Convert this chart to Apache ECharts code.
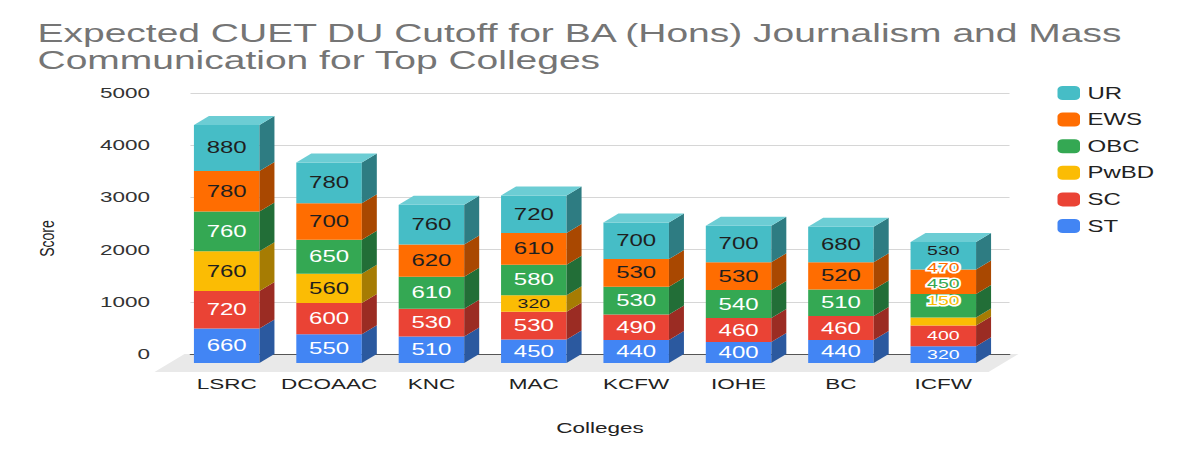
<!DOCTYPE html>
<html style="height: 100%">
<head>
  <meta charset="utf-8">
</head>
<body style="height: 100%; margin: 0; background: #fff; overflow: hidden">
  <!-- the reference is stretched sideways, so draw at 800 wide and scale by 1.5 -->
  <div id="container" style="width: 800px; height: 450px; transform: scaleX(1.5); transform-origin: 0 0"></div>

  <script type="text/javascript" src="https://cdn.jsdelivr.net/npm/echarts@6/dist/echarts.min.js"></script>
  <script type="text/javascript">
    var colleges = ['LSRC', 'DCOAAC', 'KNC', 'MAC', 'KCFW', 'IOHE', 'BC', 'ICFW'];
    var stScores = [660, 550, 510, 450, 440, 400, 440, 320];
    var scScores = [720, 600, 530, 530, 490, 460, 460, 400];
    var pwbdScores = [760, 560, 0, 320, 0, 0, 0, 150];
    var obcScores = [760, 650, 610, 580, 530, 540, 510, 450];
    var ewsScores = [780, 700, 620, 610, 530, 530, 520, 470];
    var urScores = [880, 780, 760, 720, 700, 700, 680, 530];
    var yTicks = { min: 0, max: 5000, interval: 1000 };

    // stacking order, bottom first
    var groups = [
      { name: 'ST', values: stScores, color: '#4285f4', side: '#2b599f', text: '#ffffff' },
      { name: 'SC', values: scScores, color: '#ea4335', side: '#9b2c23', text: '#ffffff' },
      { name: 'PwBD', values: pwbdScores, color: '#fbbc04', side: '#a67c03', text: '#1f1f1f' },
      { name: 'OBC', values: obcScores, color: '#34a853', side: '#226e37', text: '#ffffff' },
      { name: 'EWS', values: ewsScores, color: '#ff6d01', side: '#a94801', text: '#1f1f1f' },
      { name: 'UR', values: urScores, color: '#46bdc6', side: '#2e7c82', text: '#1f1f1f' }
    ];
    // ICFW is crowded: smaller labels, some pushed up and drawn with a white outline
    var smallCols = ['ICFW'];
    var labelShift = { 'ICFW': { UR: -5, EWS: -14, OBC: -22, PwBD: -21 } };
    var outlined = { 'ICFW': ['EWS', 'OBC', 'PwBD'] };

    var DX = 10, DY = 9;
    var FONT = '"Liberation Sans", Arial, sans-serif';

    var totals = colleges.map(function (c, i) {
      return groups.reduce(function (s, g) { return s + g.values[i]; }, 0);
    });
    var running = colleges.map(function () { return 0; });

    var series = [];

    // floor under the bars
    series.push({
      type: 'custom',
      name: 'floor',
      silent: true,
      data: [[0]],
      renderItem: function (params, api) {
        var cs = params.coordSys;
        var y0 = cs.y + cs.height;
        return {
          type: 'polygon',
          shape: { points: [[cs.x - 4, y0], [cs.x + cs.width + 6, y0], [cs.x + cs.width - 2 * DX + 6, y0 + 2 * DY], [cs.x - 2 * DX - 4, y0 + 2 * DY]] },
          style: { fill: '#e9e9e9' }
        };
      },
      z: 1
    });

    groups.forEach(function (g) {
      var data = colleges.map(function (c, i) {
        var lo = running[i];
        var hi = lo + g.values[i];
        running[i] = hi;
        return [i, lo, hi, g.values[i], hi === totals[i] ? 1 : 0];
      });
      series.push({
        type: 'custom',
        name: g.name,
        itemStyle: { color: g.color },
        encode: { x: 0, y: [1, 2] },
        data: data,
        z: 3,
        renderItem: function (params, api) {
          var cat = api.value(0), val = api.value(3), isTop = api.value(4);
          if (!val) return;
          var pLo = api.coord([cat, api.value(1)]);
          var pHi = api.coord([cat, api.value(2)]);
          var w = api.size([1, 0])[0] * 0.64;
          var xl = pLo[0] - DX - w / 2, xr = xl + w;
          var yb = pLo[1] + DY, yt = pHi[1] + DY;
          var h = yb - yt;
          var kids = [
            { type: 'rect', shape: { x: xl, y: yt, width: w, height: h }, style: { fill: g.color } },
            { type: 'polygon', shape: { points: [[xr, yt], [xr, yb], [xr + DX, yb - DY], [xr + DX, yt - DY]] }, style: { fill: g.side } }
          ];
          if (isTop) {
            kids.push({ type: 'polygon', shape: { points: [[xl, yt], [xr, yt], [xr + DX, yt - DY], [xl + DX, yt - DY]] }, style: { fill: '#6ccdd4' } });
          }
          var col = colleges[cat];
          var shift = (labelShift[col] || {})[g.name] || 0;
          var out = (outlined[col] || []).indexOf(g.name) >= 0;
          var small = h < 18 || smallCols.indexOf(col) >= 0;
          kids.push({
            type: 'text',
            x: xl + w / 2,
            y: (yt + yb) / 2 + shift,
            z2: out ? 10 : 0,
            style: {
              text: String(val),
              fill: out ? g.color : g.text,
              stroke: out ? '#ffffff' : null,
              lineWidth: out ? 3 : 0,
              fontSize: small ? 13 : 16,
              fontFamily: FONT,
              align: 'center',
              verticalAlign: 'middle'
            }
          });
          return { type: 'group', children: kids };
        }
      });
    });

    var dom = document.getElementById('container');
    var myChart = echarts.init(dom, null, { renderer: 'svg' });

    var option = {
      backgroundColor: '#fff',
      animation: false,
      textStyle: { fontFamily: FONT },
      title: {
        text: 'Expected CUET DU Cutoff for BA (Hons) Journalism and Mass\nCommunication for Top Colleges',
        left: 20,
        top: 14,
        textStyle: { fontSize: 26, lineHeight: 27, color: '#757575', fontWeight: 'normal', fontFamily: FONT }
      },
      legend: {
        orient: 'vertical',
        left: 700,
        top: 80,
        itemWidth: 15,
        itemHeight: 14,
        itemGap: 10.6,
        icon: 'roundRect',
        data: ['UR', 'EWS', 'OBC', 'PwBD', 'SC', 'ST'],
        textStyle: { fontSize: 16, color: '#222', fontFamily: FONT }
      },
      grid: {
        left: 127,
        right: 127,
        top: 93,
        bottom: 96
      },
      xAxis: {
        type: 'category',
        data: colleges,
        name: 'Colleges',
        nameLocation: 'middle',
        nameGap: 66,
        nameTextStyle: { fontSize: 15, color: '#222' },
        axisLine: { show: true, lineStyle: { color: '#555', width: 1.2 } },
        axisTick: { show: false },
        axisLabel: { interval: 0, fontSize: 15, color: '#222', margin: 22, padding: [0, 2 * DX, 0, 0] },
        z: 2
      },
      yAxis: {
        type: 'value',
        min: yTicks.min,
        max: yTicks.max,
        interval: yTicks.interval,
        name: 'Score',
        nameLocation: 'middle',
        nameGap: 89,
        nameTextStyle: { fontSize: 14, color: '#222', padding: [0, 30, 0, 0] },
        axisLine: { show: false },
        axisTick: { show: false },
        axisLabel: { fontSize: 15, color: '#333', margin: 27, formatter: function (v) { return String(v); } },
        splitLine: { lineStyle: { color: '#d6d6d6' } }
      },
      series: series
    };

    myChart.setOption(option);
  </script>
</body>
</html>
